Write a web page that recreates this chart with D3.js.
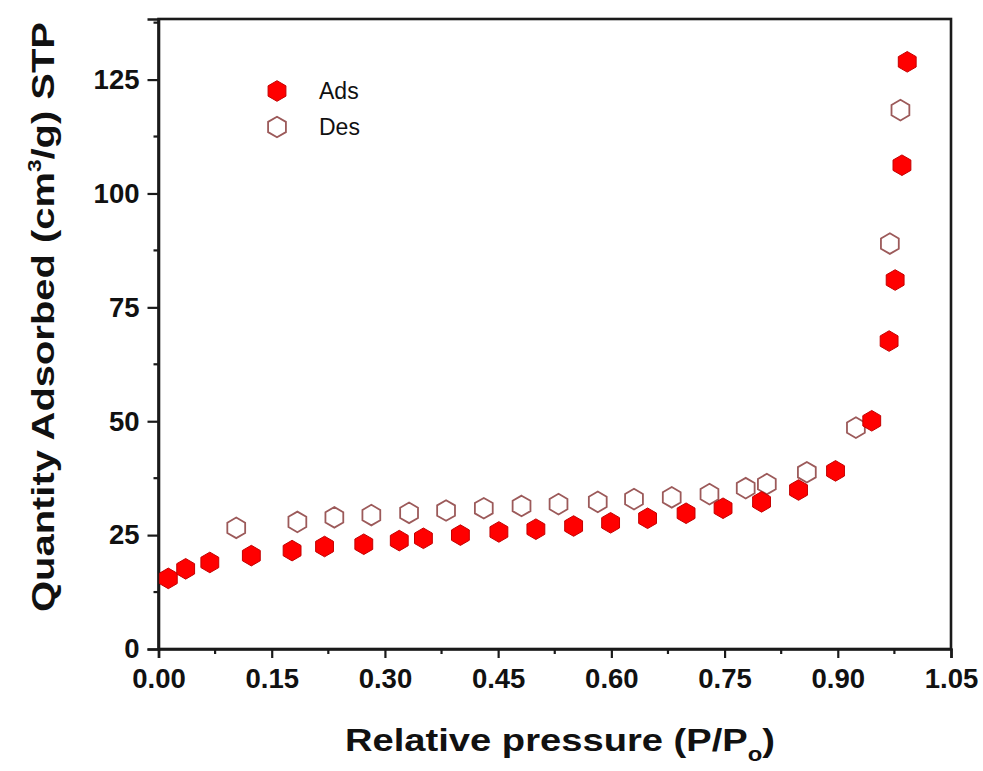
<!DOCTYPE html>
<html>
<head>
<meta charset="utf-8">
<script src="https://cdn.jsdelivr.net/npm/d3@7"></script>
<style>
  html, body { margin: 0; padding: 0; background: #fff; }
  svg { display: block; font-family: "Liberation Sans", Arial, sans-serif; }
</style>
</head>
<body>
<svg id="chart" width="983" height="771"></svg>
<script>
// N2 isotherm: adsorption (filled) and desorption (open) branches
const adsX = [0.013, 0.036, 0.068, 0.123, 0.177, 0.220, 0.272, 0.319, 0.351, 0.400, 0.451, 0.500, 0.550, 0.599, 0.648, 0.699, 0.748, 0.799, 0.848, 0.897, 0.945, 0.968, 0.976, 0.985, 0.992];
const adsY = [15.5, 17.6, 19.0, 20.5, 21.6, 22.5, 23.0, 23.8, 24.3, 25.0, 25.7, 26.3, 27.0, 27.7, 28.7, 29.8, 30.9, 32.3, 34.9, 39.1, 50.1, 67.6, 81.0, 106.2, 128.9];
const desX = [0.103, 0.184, 0.233, 0.282, 0.332, 0.381, 0.431, 0.481, 0.530, 0.582, 0.630, 0.680, 0.730, 0.778, 0.806, 0.859, 0.924, 0.969, 0.983];
const desY = [26.6, 27.9, 28.9, 29.4, 29.9, 30.4, 30.9, 31.4, 31.8, 32.3, 32.9, 33.3, 34.0, 35.3, 36.2, 38.8, 48.6, 89.0, 118.3];

const xTicks = [0, 0.15, 0.30, 0.45, 0.60, 0.75, 0.90, 1.05];
const xMinor = [0.075, 0.225, 0.375, 0.525, 0.675, 0.825, 0.975];
const yTicks = [0, 25, 50, 75, 100, 125];
const yMinor = [12.5, 37.5, 62.5, 87.5, 112.5, 137.5];
const seriesNames = ["Ads", "Des"];

const plotL = 158.5, plotR = 951, plotT = 19, plotB = 649;
const x = d3.scaleLinear().domain([0, 1.05]).range([plotL, plotR]);
const y = d3.scaleLinear().domain([0, 138.3]).range([plotB, plotT]);

const svg = d3.select("#chart");
const ink = "#1a1a1a";

// hexagon marker, pointy top
const hexagon = {
  draw(ctx, size) {
    const r = Math.sqrt(size / (1.5 * Math.sqrt(3)));
    for (let i = 0; i < 6; i++) {
      const a = Math.PI / 3 * i - Math.PI / 2;
      const px = r * Math.cos(a), py = r * Math.sin(a);
      if (i === 0) ctx.moveTo(px, py); else ctx.lineTo(px, py);
    }
    ctx.closePath();
  }
};
const R = 10.3;
const hexPath = d3.symbol().type(hexagon).size(1.5 * Math.sqrt(3) * R * R)();

const fillStyle = { fill: "#ff0000", stroke: "#c40000", width: 1 };
const openStyle = { fill: "#ffffff", stroke: "#9c5a5a", width: 1.8 };

// frame
svg.append("rect")
  .attr("x", plotL).attr("y", plotT)
  .attr("width", plotR - plotL).attr("height", plotB - plotT)
  .attr("fill", "none").attr("stroke", ink).attr("stroke-width", 2.6);

// x axis
const xAxis = svg.append("g").attr("transform", `translate(0,${plotB})`)
  .call(d3.axisBottom(x).tickValues(xTicks).tickFormat(d3.format(".2f"))
    .tickSize(9).tickPadding(10));
xAxis.append("g").selectAll("line").data(xMinor).join("line")
  .attr("x1", d => x(d)).attr("x2", d => x(d))
  .attr("y1", 0).attr("y2", 5).attr("stroke", ink).attr("stroke-width", 2.2);

// y axis
const yAxis = svg.append("g").attr("transform", `translate(${plotL},0)`)
  .call(d3.axisLeft(y).tickValues(yTicks).tickFormat(d3.format("d"))
    .tickSize(11).tickPadding(8));
yAxis.append("g").selectAll("line").data(yMinor).join("line")
  .attr("y1", d => y(d)).attr("y2", d => y(d))
  .attr("x1", 0).attr("x2", -5).attr("stroke", ink).attr("stroke-width", 2.2);

[xAxis, yAxis].forEach(g => {
  g.select(".domain").attr("stroke", ink).attr("stroke-width", 2.6);
  g.selectAll(".tick line").attr("stroke", ink).attr("stroke-width", 2.2);
  g.selectAll(".tick text")
    .attr("fill", "#111").attr("font-size", 27.5).attr("font-weight", "bold")
    .attr("font-family", "Liberation Sans, Arial, sans-serif");
});

// data markers: desorption first, adsorption on top
function drawSeries(xs, ys, st) {
  svg.append("g").selectAll("path").data(xs.map((d, i) => [d, ys[i]])).join("path")
    .attr("d", hexPath)
    .attr("transform", d => `translate(${x(d[0])},${y(d[1])})`)
    .attr("fill", st.fill).attr("stroke", st.stroke).attr("stroke-width", st.width);
}
drawSeries(desX, desY, openStyle);
drawSeries(adsX, adsY, fillStyle);

// legend
const legend = svg.append("g");
[fillStyle, openStyle].forEach((st, i) => {
  const ly = 91 + i * 36;
  legend.append("path").attr("d", hexPath)
    .attr("transform", `translate(277,${ly})`)
    .attr("fill", st.fill).attr("stroke", st.stroke).attr("stroke-width", st.width);
  legend.append("text").attr("x", 319).attr("y", ly + 8)
    .attr("font-size", 23).attr("fill", "#111").text(seriesNames[i]);
});

// axis titles
const xt = svg.append("text").attr("x", 345).attr("y", 751)
  .attr("font-size", 32).attr("font-weight", "bold").attr("fill", "#111")
  .attr("textLength", 430).attr("lengthAdjust", "spacingAndGlyphs");
xt.append("tspan").text("Relative pressure (P/P");
xt.append("tspan").attr("font-size", 20).attr("dy", 10).text("o");
xt.append("tspan").attr("dy", -10).text(")");

const yt = svg.append("text")
  .attr("transform", "translate(54,612) rotate(-90)")
  .attr("x", 0).attr("y", 0)
  .attr("font-size", 32).attr("font-weight", "bold").attr("fill", "#111")
  .attr("textLength", 590).attr("lengthAdjust", "spacingAndGlyphs");
yt.append("tspan").text("Quantity Adsorbed (cm");
yt.append("tspan").attr("font-size", 18).attr("dy", -13).text("3");
yt.append("tspan").attr("dy", 13).text("/g) STP");
</script>
</body>
</html>
